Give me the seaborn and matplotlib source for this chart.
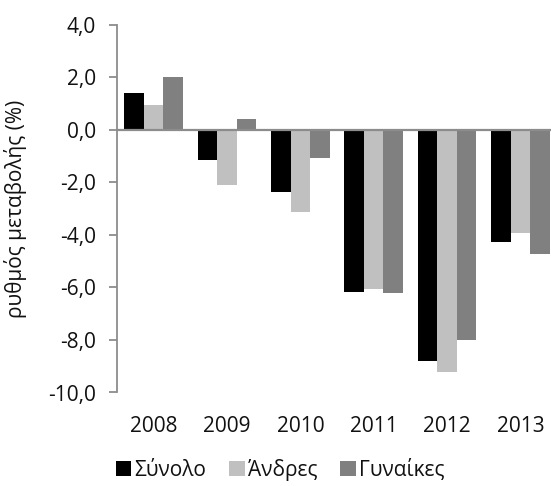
import matplotlib
matplotlib.use('Agg')
import matplotlib.pyplot as plt
from matplotlib.ticker import FuncFormatter
from matplotlib.patches import Patch
import seaborn as sns
import pandas as pd

years = ['2008', '2009', '2010', '2011', '2012', '2013']
series = ['Σύνολο', 'Άνδρες', 'Γυναίκες']
total = [1.4, -1.14, -2.35, -6.16, -8.79, -4.28]
men = [0.97, -2.09, -3.13, -6.04, -9.22, -3.92]
women = [2.0, 0.41, -1.07, -6.22, -8.01, -4.72]
colors = ['#000000', '#c0c0c0', '#808080']
y_ticks = [4, 2, 0, -2, -4, -6, -8, -10]


def main():
    # long format for the seaborn hue grouping
    rows = []
    for name, vals in zip(series, [total, men, women]):
        for yr, v in zip(years, vals):
            rows.append({'year': yr, 'series': name, 'value': v})
    df = pd.DataFrame(rows)

    sns.set_style('white')
    plt.rcParams['font.family'] = ['Open Sans', 'DejaVu Sans']

    fig = plt.figure(figsize=(5.51, 4.86), dpi=100)
    ax = fig.add_axes([117 / 551, 1 - 392.5 / 486, 440 / 551, 367.5 / 486])

    sns.barplot(data=df, x='year', y='value', hue='series', order=years,
                hue_order=series, palette=colors, width=0.8, linewidth=0,
                saturation=1, legend=False, ax=ax)

    ax.axhline(0, color='#8c8c8c', lw=1.6, zorder=3)
    ax.set_ylim(-10, 4)
    ax.set_xlim(-0.5, 5.5)
    ax.set_yticks(y_ticks)
    ax.yaxis.set_major_formatter(FuncFormatter(lambda v, p: f'{v:.1f}'.replace('.', ',')))

    for s in ['top', 'right', 'bottom']:
        ax.spines[s].set_visible(False)
    ax.spines['left'].set_color('#8c8c8c')
    ax.spines['left'].set_linewidth(1.3)
    ax.tick_params(axis='y', direction='out', length=6, width=1.3, color='#8c8c8c',
                   pad=9, labelsize=15, labelcolor='#111111', left=True)
    ax.tick_params(axis='x', length=0, pad=17, labelsize=15, labelcolor='#111111')

    ax.set_xlabel('')
    ax.set_ylabel('ρυθμός μεταβολής (%)', fontsize=15, color='#111111')
    ax.yaxis.set_label_coords(-0.205, 0.5)

    handles = [Patch(facecolor=c, edgecolor='none') for c in colors]
    fig.legend(handles, series, loc='center', bbox_to_anchor=(280 / 551, 1 - 470 / 486),
               ncol=3, frameon=False, fontsize=15, handlelength=0.75, handleheight=0.75,
               handletextpad=0.15, columnspacing=1.1, labelcolor='#111111')

    fig.savefig('out.png', dpi=100)


if __name__ == '__main__':
    main()
